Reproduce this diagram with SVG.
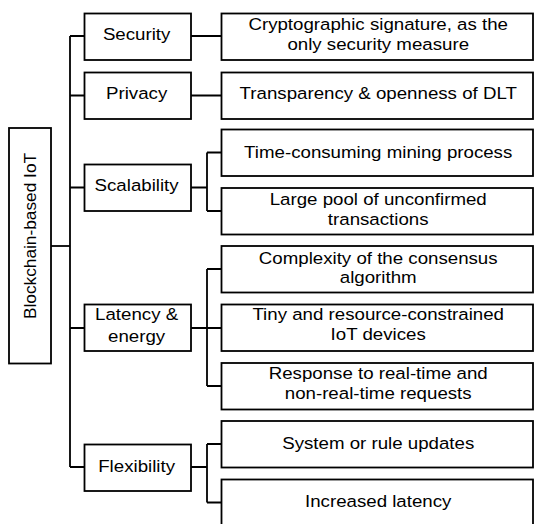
<svg xmlns="http://www.w3.org/2000/svg" width="535" height="524" viewBox="0 0 535 524">
<style>
.b{fill:#fff;stroke:#000;stroke-width:1.8}
.t{font-family:"Liberation Sans",Arial,sans-serif;font-size:17.3px;fill:#000;text-anchor:middle;dominant-baseline:central}
.c{fill:none;stroke:#000;stroke-width:1.8}
</style>
<rect width="535" height="524" fill="#fff"/>
<g id="connectors">
<path class="c" d="M51 246H70" stroke-width="2.6"/>
<path class="c" d="M70 36V467M70 36H84.5M70 95.5H84.5M70 187.5H84.5M70 328H84.5M70 467H84.5"/>
<path class="c" d="M191 36H221.5M191 95.5H221.5"/>
<path class="c" d="M191 187.5H207M207 152.5V211M207 152.5H221.5M207 211H221.5"/>
<path class="c" d="M191 328H207M207 269V386M207 269H221.5M207 328H221.5M207 386H221.5"/>
<path class="c" d="M191 467H207M207 444V502.5M207 444H221.5M207 502.5H221.5"/>
</g>
<g id="root"><rect class="b" x="9" y="128" width="42" height="235.5"/><text class="t" transform="translate(29.5 236) rotate(-90)">Blockchain-based IoT</text></g>
<g id="security"><rect class="b" x="84.5" y="13.5" width="106.5" height="46.5"/><text class="t" transform="scale(1.08 1)" x="126.5" y="34">Security</text></g>
<g id="privacy"><rect class="b" x="84.5" y="72.5" width="106.5" height="46.5"/><text class="t" transform="scale(1.08 1)" x="126.5" y="93.3">Privacy</text></g>
<g id="scalability"><rect class="b" x="84.5" y="164.5" width="106.5" height="46.5"/><text class="t" transform="scale(1.08 1)" x="126.5" y="185.5">Scalability</text></g>
<g id="latency"><rect class="b" x="84.5" y="304.5" width="106.5" height="46.5"/><text class="t" transform="scale(1.08 1)" x="126.5" y="314">Latency &amp;</text><text class="t" transform="scale(1.08 1)" x="126.5" y="336">energy</text></g>
<g id="flexibility"><rect class="b" x="84.5" y="444.5" width="106.5" height="46.5"/><text class="t" transform="scale(1.08 1)" x="126.5" y="466">Flexibility</text></g>
<g id="crypto"><rect class="b" x="221.5" y="13.5" width="311.5" height="46.5"/><text class="t" transform="scale(1.08 1)" x="350.2" y="24.5">Cryptographic signature, as the</text><text class="t" transform="scale(1.08 1)" x="350.2" y="44.5">only security measure</text></g>
<g id="transparency"><rect class="b" x="221.5" y="72.5" width="311.5" height="46.5"/><text class="t" transform="scale(1.08 1)" x="350.2" y="93.3">Transparency &amp; openness of DLT</text></g>
<g id="mining"><rect class="b" x="221.5" y="129.5" width="311.5" height="46.5"/><text class="t" transform="scale(1.08 1)" x="350.2" y="152.5">Time-consuming mining process</text></g>
<g id="pool"><rect class="b" x="221.5" y="188" width="311.5" height="46.5"/><text class="t" transform="scale(1.08 1)" x="350.2" y="199.5">Large pool of unconfirmed</text><text class="t" transform="scale(1.08 1)" x="350.2" y="219.5">transactions</text></g>
<g id="complexity"><rect class="b" x="221.5" y="246" width="311.5" height="46.5"/><text class="t" transform="scale(1.08 1)" x="350.2" y="258">Complexity of the consensus</text><text class="t" transform="scale(1.08 1)" x="350.2" y="277.5">algorithm</text></g>
<g id="tiny"><rect class="b" x="221.5" y="304.5" width="311.5" height="46.5"/><text class="t" transform="scale(1.08 1)" x="350.2" y="314.5">Tiny and resource-constrained</text><text class="t" transform="scale(1.08 1)" x="350.2" y="334.5">IoT devices</text></g>
<g id="response"><rect class="b" x="221.5" y="363" width="311.5" height="46.5"/><text class="t" transform="scale(1.08 1)" x="350.2" y="373">Response to real-time and</text><text class="t" transform="scale(1.08 1)" x="350.2" y="393.5">non-real-time requests</text></g>
<g id="updates"><rect class="b" x="221.5" y="421" width="311.5" height="46.5"/><text class="t" transform="scale(1.08 1)" x="350.2" y="443.5">System or rule updates</text></g>
<g id="increased"><rect class="b" x="221.5" y="479.5" width="311.5" height="46.5"/><text class="t" transform="scale(1.08 1)" x="350.2" y="501">Increased latency</text></g>
</svg>
